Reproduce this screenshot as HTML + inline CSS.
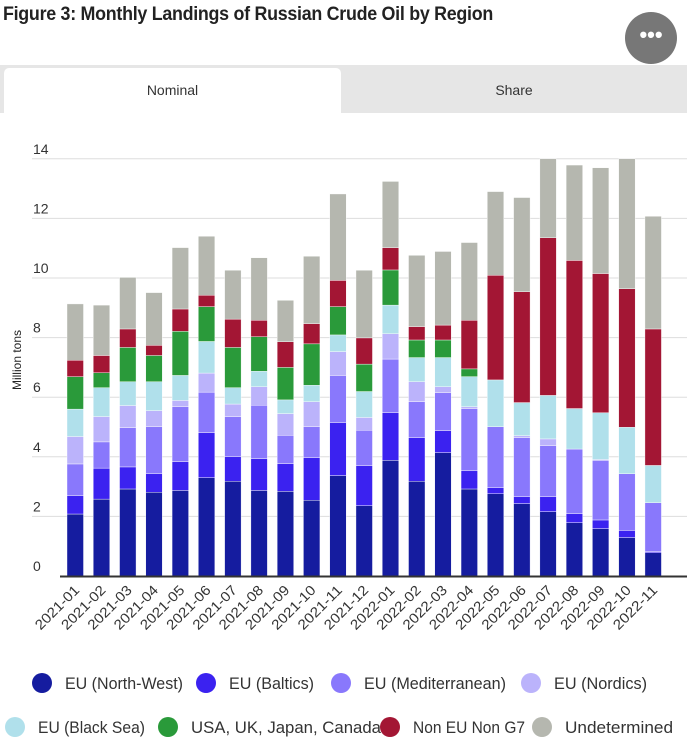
<!DOCTYPE html>
<html><head><meta charset="utf-8">
<style>
body{margin:0;width:687px;height:750px;background:#fff;overflow:hidden;font-family:"Liberation Sans",sans-serif;position:relative;}
#title{position:absolute;left:3px;top:4px;font-size:19px;font-weight:bold;color:#222;letter-spacing:-0.3px;white-space:nowrap;transform:scaleX(0.94);transform-origin:left top;}
#menu{position:absolute;left:625px;top:12px;width:52px;height:52px;border-radius:50%;background:#777;color:#fff;text-align:center;line-height:46px;font-size:22px;font-weight:bold;}
#tabs{position:absolute;left:0;top:65px;width:687px;height:48px;background:#e6e6e6;}
.tab{position:absolute;top:0;height:48px;line-height:50px;text-align:center;font-size:14px;color:#333;}
#t1{left:4px;width:337px;background:#fff;border-radius:5px 5px 0 0;top:3px;height:45px;line-height:44px;}
#t2{left:341px;width:346px;}
svg{position:absolute;left:0;top:0;}
</style></head><body>
<div id="title">Figure 3: Monthly Landings of Russian Crude Oil by Region</div>
<div id="menu">&#8226;&#8226;&#8226;</div>
<div id="tabs">
<div class="tab" id="t1">Nominal</div>
<div class="tab" id="t2">Share</div>
</div>
<svg id="chart" width="687" height="750"></svg>
<script>
const categories=["2021-01","2021-02","2021-03","2021-04","2021-05","2021-06","2021-07","2021-08","2021-09","2021-10","2021-11","2021-12","2022-01","2022-02","2022-03","2022-04","2022-05","2022-06","2022-07","2022-08","2022-09","2022-10","2022-11"];
const seriesNames=["EU (North-West)","EU (Baltics)","EU (Mediterranean)","EU (Nordics)","EU (Black Sea)","USA, UK, Japan, Canada","Non EU Non G7","Undetermined"];
const nw=[2.08,2.58,2.92,2.81,2.87,3.30,3.18,2.87,2.84,2.54,3.37,2.36,3.88,3.18,4.14,2.92,2.76,2.43,2.16,1.79,1.59,1.29,0.78];
const baltics=[0.62,1.04,0.74,0.62,0.97,1.51,0.82,1.07,0.93,1.43,1.78,1.34,1.60,1.46,0.74,0.61,0.20,0.23,0.50,0.30,0.29,0.24,0.04];
const med=[1.06,0.88,1.32,1.58,1.84,1.36,1.35,1.79,0.95,1.04,1.58,1.19,1.80,1.21,1.27,2.09,2.05,1.98,1.71,2.17,2.00,1.90,1.64];
const nordics=[0.92,0.85,0.74,0.54,0.21,0.64,0.42,0.62,0.73,0.84,0.80,0.43,0.85,0.67,0.20,0.06,0,0.07,0.23,0,0.03,0,0];
const blackSea=[0.92,0.97,0.80,0.97,0.84,1.06,0.55,0.52,0.46,0.55,0.56,0.87,0.96,0.81,0.98,1.01,1.57,1.11,1.46,1.36,1.57,1.56,1.25];
const g7=[1.09,0.50,1.15,0.88,1.48,1.17,1.35,1.16,1.09,1.39,0.95,0.92,1.18,0.59,0.59,0.26,0,0,0,0,0,0,0];
const nonEu=[0.55,0.58,0.62,0.34,0.75,0.38,0.95,0.55,0.86,0.68,0.88,0.88,0.75,0.45,0.50,1.63,3.51,3.72,5.29,4.97,4.67,4.65,4.58];
const undetermined=[1.89,1.69,1.73,1.77,2.06,1.98,1.64,2.10,1.39,2.26,2.90,2.27,2.22,2.39,2.47,2.61,2.81,3.16,2.65,3.20,3.55,4.36,3.78];
const yTicks=[0,2,4,6,8,10,12,14];
const series=[nw,baltics,med,nordics,blackSea,g7,nonEu,undetermined];
const colors=["#151c9f","#3b22f0","#8978fc","#bbb3fb","#b0e0eb","#2a9a3a","#a31634","#b5b7af"];
const legWidths=[118,85,142,93,107,190,112,108];
const NS="http://www.w3.org/2000/svg";
const svg=document.getElementById('chart');
const y0=576,pxPer=29.8,yMax=14;
function y(v){return y0-Math.min(v,yMax)*pxPer;}
const x0=67,pitch=26.27,bw=16.5;
function x(i){return x0+i*pitch;}
function mk(t,a){const e=document.createElementNS(NS,t);for(const k in a)e.setAttribute(k,a[k]);svg.appendChild(e);return e;}
yTicks.forEach(t=>{
  if(t>0){const g=mk('line',{x1:32,x2:687,y1:y(t),y2:y(t),stroke:'#ddd','stroke-width':1});
  
  }
  const l=mk('text',{x:33,y:y(t)-5,'font-size':14,fill:'#333'});
  l.textContent=t;
  
  
});
const yt=mk('text',{x:0,y:0,'font-size':12,fill:'#222','text-anchor':'middle',transform:'translate(21,360) rotate(-90)'});
yt.textContent='Million tons';


categories.forEach((c,i)=>{
  let cum=0;
  series.forEach((s,k)=>{
    const v=s[i];
    if(v>0){
      const top=y(cum+v),bot=y(cum);
      if(bot-top>0){
      const r=mk('rect',{x:x(i),y:top,width:bw,height:bot-top,fill:colors[k],stroke:'#fff','stroke-width':0.4});
      
      }
    }
    cum+=v;
  });
  const cx=x(i)+bw/2+5,cy=591;
  const t=mk('text',{x:0,y:0,'font-size':14,fill:'#333','text-anchor':'end',textLength:56,lengthAdjust:'spacingAndGlyphs',transform:'translate('+cx+','+cy+') rotate(-45)'});
  t.textContent=c;
  
  
});
const ax=mk('line',{x1:60,x2:687,y1:y0+0.5,y2:y0+0.5,stroke:'#333','stroke-width':2});


const legPos=[[42,683],[206,683],[341,683],[531,683],[15,727],[168,727],[390,727],[542,727]];
seriesNames.forEach((n,k)=>{
  const [lx,ly]=legPos[k];
  const c=mk('circle',{cx:lx,cy:ly,r:10,fill:colors[k]});
  
  
  const t=mk('text',{x:lx+23,y:ly+6,'font-size':17,fill:'#333',textLength:legWidths[k],lengthAdjust:'spacingAndGlyphs'});
  t.textContent=n;
  
  
});
</script>
</body></html>
